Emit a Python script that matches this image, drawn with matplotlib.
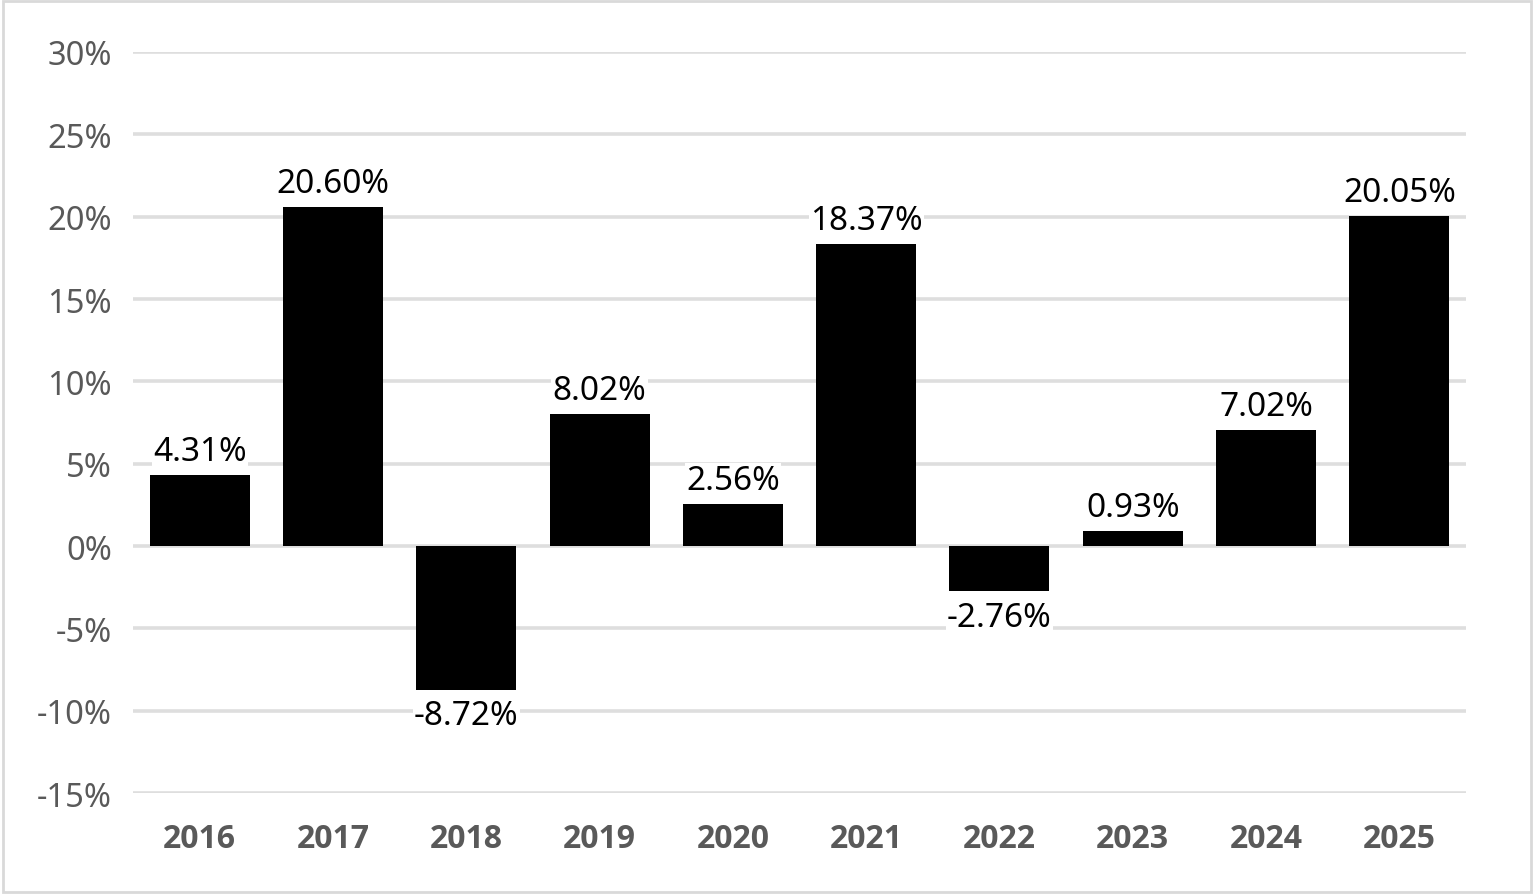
import matplotlib.pyplot as plt
from matplotlib.patches import Rectangle
from matplotlib.ticker import FuncFormatter, MultipleLocator

years = ["2016", "2017", "2018", "2019", "2020", "2021", "2022", "2023", "2024", "2025"]
returns = [4.31, 20.60, -8.72, 8.02, 2.56, 18.37, -2.76, 0.93, 7.02, 20.05]

plt.rcParams["font.family"] = ["Noto Sans", "DejaVu Sans"]

fig = plt.figure(figsize=(15.34, 8.95), dpi=100)
ax = fig.add_axes([0.0867, 0.1128, 0.869, 0.828])

x = list(range(len(years)))
ax.bar(x, returns, width=0.75, color="black", zorder=3)

# value labels, white box so gridlines don't run through them
for xi, v in zip(x, returns):
    if v >= 0:
        ax.annotate(f"{v:.2f}%", (xi, v), xytext=(0, 5), textcoords="offset points",
                    ha="center", va="bottom", fontsize=24, color="black",
                    bbox=dict(facecolor="white", edgecolor="none", pad=1), zorder=4)
    else:
        ax.annotate(f"{v:.2f}%", (xi, v), xytext=(0, -7), textcoords="offset points",
                    ha="center", va="top", fontsize=24, color="black",
                    bbox=dict(facecolor="white", edgecolor="none", pad=1), zorder=4)

ax.set_xlim(-0.5, len(years) - 0.5)
ax.set_ylim(-15, 30)
ax.yaxis.set_major_locator(MultipleLocator(5))
ax.yaxis.set_major_formatter(FuncFormatter(lambda v, p: f"{v:.0f}%"))
ax.set_xticks(x)
ax.set_xticklabels(years)

ax.grid(axis="y", color="#dedede", linewidth=2.6, zorder=0)
ax.tick_params(axis="both", length=0, labelsize=23.5, labelcolor="#595959")
ax.tick_params(axis="y", pad=15)
ax.tick_params(axis="x", pad=21)
for lab in ax.get_xticklabels():
    lab.set_fontweight("bold")
    lab.set_fontsize(23)
    lab.set_family(["Open Sans", "Noto Sans", "DejaVu Sans"])
for s in ax.spines.values():
    s.set_visible(False)

fig.patches.append(Rectangle((0.002, 0.002), 0.996, 0.996, transform=fig.transFigure,
                             fill=False, edgecolor="#d9d9d9", linewidth=2))

fig.savefig("out.png", dpi=100)
